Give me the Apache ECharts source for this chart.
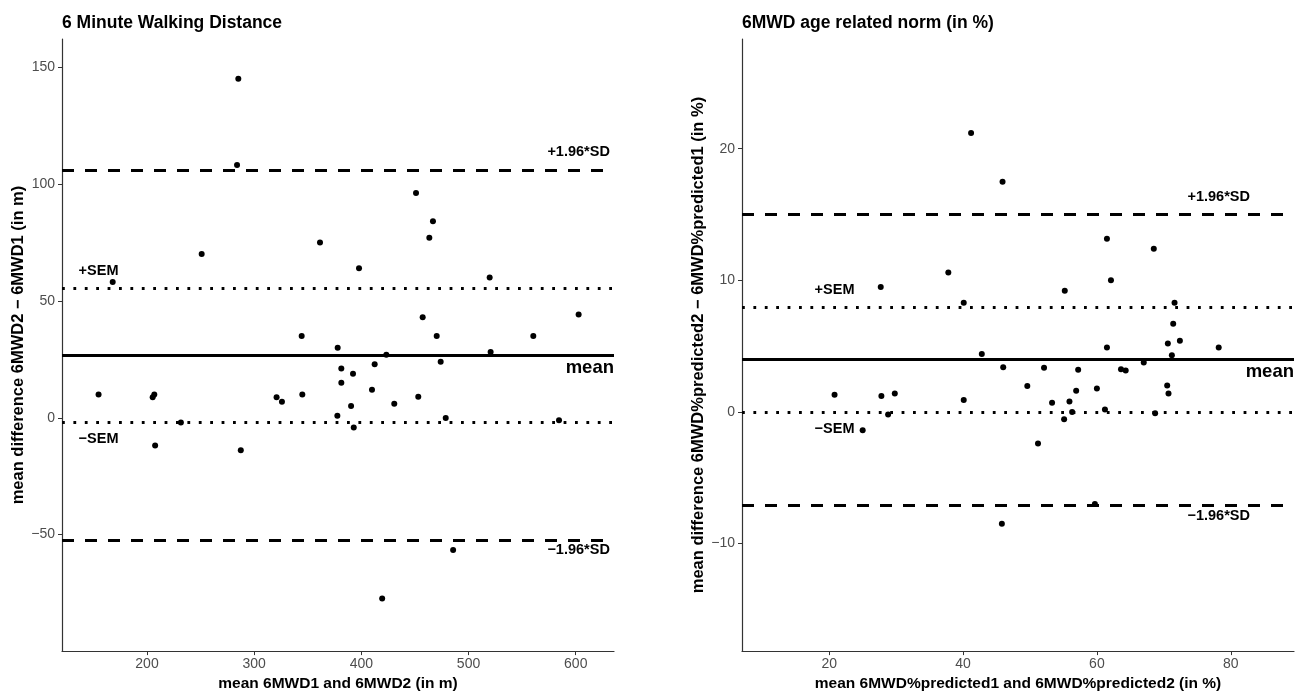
<!DOCTYPE html>
<html lang="en">
<head>
    <meta charset="UTF-8">
    <script src="https://cdn.jsdelivr.net/npm/echarts@6/dist/echarts.min.js"></script>
    <style>
        html, body { margin: 0; padding: 0; background: #fff; }
        #chart { width: 1300px; height: 697px; }
    </style>
</head>
<body>
<div id="chart"></div>
<script>
    // left panel: 6MWD in metres
    var leftMean = [285.2, 284.0, 251.0, 361.4, 397.8, 168.0, 344.3, 377.9, 451.0, 466.8,
        463.4, 519.7, 457.2, 602.7, 470.3, 560.4, 520.6, 423.3, 474.0, 412.4,
        381.3, 392.2, 381.3, 344.9, 409.9, 390.4, 430.7, 453.1, 377.6, 392.9,
        478.7, 584.4, 154.8, 205.3, 206.8, 231.6, 207.6, 287.5, 320.9, 325.9,
        485.6, 419.4];
    var leftDiff = [145.2, 108.2, 70.1, 75.1, 64.0, 58.1, 35.0, 30.0, 96.3, 84.2,
        77.1, 60.1, 43.1, 44.2, 35.0, 35.0, 28.2, 27.0, 24.0, 22.9,
        21.1, 18.9, 15.0, 10.0, 12.0, 5.0, 6.0, 9.0, 0.9, -4.2,
        -0.1, -1.1, 10.0, 8.8, 10.0, -2.0, -11.9, -13.9, 8.8, 6.9,
        -56.6, -77.4];
    // mean, +SEM, -SEM, +1.96SD, -1.96SD
    var leftLines = [26.8, 55.4, -1.7, 106.0, -52.4];

    // right panel: 6MWD % predicted
    var rightMean = [45.9, 61.5, 68.5, 62.1, 55.2, 71.6, 71.4, 70.6, 72.4, 78.2,
        61.5, 71.2, 42.8, 46.0, 52.1, 57.2, 63.6, 64.3, 67.0, 49.6,
        56.9, 60.0, 70.5, 70.7, 53.3, 55.9, 56.3, 55.1, 61.2, 68.7,
        51.2, 59.7, 45.8, 20.8, 25.0, 27.7, 27.8, 28.8, 29.8, 37.8,
        41.2, 40.1, 40.1];
    var rightDiff = [17.5, 13.15, 12.4, 10.0, 9.2, 8.3, 6.7, 5.2, 5.4, 4.9,
        4.9, 4.3, 4.4, 3.4, 3.35, 3.2, 3.25, 3.15, 3.75, 1.97,
        1.6, 1.77, 2.0, 1.4, 0.69, 0.79, 0.0, -0.55, 0.18, -0.1,
        -2.4, -7.0, -8.5, 1.3, -1.4, 9.5, 1.2, -0.2, 1.4, 10.6,
        21.2, 8.3, 0.9];
    var rightLines = [3.97, 7.98, 0.0, 15.0, -7.06];

    var leftXTicks = [200, 300, 400, 500, 600];
    var leftYTicks = [-50, 0, 50, 100, 150];
    var rightXTicks = [20, 40, 60, 80];
    var rightYTicks = [-10, 0, 10, 20];

    var FONT = 'Liberation Sans';
    var chart = echarts.init(document.getElementById('chart'));

    function pairs(xs, ys) {
        var out = [];
        for (var i = 0; i < xs.length; i++) out.push([xs[i], ys[i]]);
        return out;
    }
    function minus(v) {
        return String(v).replace('-', '\u2212');
    }
    function xAxisOf(idx, min, max, ticks, name) {
        return {
            gridIndex: idx, type: 'value', min: min, max: max,
            name: name, nameLocation: 'middle', nameGap: 24,
            nameTextStyle: {fontFamily: FONT, fontSize: 15.5, fontWeight: 'bold', color: '#000'},
            axisLine: {onZero: false, lineStyle: {color: '#333', width: 1.2}},
            axisTick: {length: 4, lineStyle: {color: '#333'}, customValues: ticks},
            axisLabel: {fontFamily: FONT, fontSize: 14, color: '#4d4d4d', margin: 6,
                customValues: ticks, formatter: minus},
            splitLine: {show: false}
        };
    }
    function yAxisOf(idx, min, max, ticks, name) {
        return {
            gridIndex: idx, type: 'value', min: min, max: max,
            name: name, nameLocation: 'middle', nameGap: 33,
            nameTextStyle: {fontFamily: FONT, fontSize: 16.5, fontWeight: 'bold', color: '#000'},
            axisLine: {show: true, onZero: false, lineStyle: {color: '#333', width: 1.2}},
            axisTick: {show: true, length: 4, lineStyle: {color: '#333'}, customValues: ticks},
            axisLabel: {fontFamily: FONT, fontSize: 14, color: '#4d4d4d', margin: 7,
                customValues: ticks, formatter: minus},
            splitLine: {show: false}
        };
    }
    function refLines(lines) {
        var dashed = {color: '#000', width: 3, type: [12, 11], cap: 'butt', opacity: 1};
        var dotted = {color: '#000', width: 2.8, type: [2.8, 8.6], cap: 'butt', opacity: 1};
        return {
            silent: true, symbol: 'none', animation: false,
            label: {show: false},
            data: [
                {yAxis: lines[0], lineStyle: {color: '#000', width: 2.8, type: 'solid', opacity: 1},
                    label: {show: true, formatter: 'mean', position: 'insideEndBottom', distance: [0, 3],
                        fontFamily: FONT, fontSize: 18.5, fontWeight: 'bold', color: '#000'}},
                {yAxis: lines[1], lineStyle: dotted},
                {yAxis: lines[2], lineStyle: dotted},
                {yAxis: lines[3], lineStyle: dashed},
                {yAxis: lines[4], lineStyle: dashed}
            ]
        };
    }
    function notes(xs, lines, downSD) {
        var xMin = Math.min.apply(null, xs), xMax = Math.max.apply(null, xs);
        function note(x, y, text, dy) {
            return {value: [x, y], label: {formatter: text, offset: [0, dy]}};
        }
        return [
            note(xMin, lines[1], '+SEM', -17),
            note(xMin, lines[2], '\u2212SEM', 17),
            note(xMax, lines[3], '+1.96*SD', -18),
            note(xMax, lines[4], '\u22121.96*SD', downSD)
        ];
    }
    function noteSeries(idx, data) {
        return {
            type: 'scatter', xAxisIndex: idx, yAxisIndex: idx, symbolSize: 0, silent: true,
            itemStyle: {opacity: 1},
            label: {show: true, position: 'inside', fontFamily: FONT, fontSize: 14.5,
                fontWeight: 'bold', color: '#000'},
            data: data
        };
    }

    var option = {
        animation: false,
        backgroundColor: '#fff',
        title: [
            {text: '6 Minute Walking Distance', left: 57, top: 9,
                textStyle: {fontFamily: FONT, fontSize: 17.5, fontWeight: 'bold', color: '#000'}},
            {text: '6MWD age related norm (in %)', left: 737, top: 9,
                textStyle: {fontFamily: FONT, fontSize: 17.5, fontWeight: 'bold', color: '#000'}}
        ],
        grid: [
            {left: 62, right: 686, top: 39, bottom: 41.5},
            {left: 742, right: 6, top: 39, bottom: 41}
        ],
        xAxis: [
            xAxisOf(0, 120.7, 635.7, leftXTicks, 'mean 6MWD1 and 6MWD2 (in m)'),
            xAxisOf(1, 6.97, 89.45, rightXTicks, 'mean 6MWD%predicted1 and 6MWD%predicted2 (in %)')
        ],
        yAxis: [
            yAxisOf(0, -99.9, 162.2, leftYTicks, 'mean difference 6MWD2 \u2212 6MWD1 (in m)'),
            yAxisOf(1, -18.18, 28.34, rightYTicks, 'mean difference 6MWD%predicted2 \u2212 6MWD%predicted1 (in %)')
        ],
        series: [
            {type: 'scatter', xAxisIndex: 0, yAxisIndex: 0, symbolSize: 6,
                itemStyle: {color: '#000', opacity: 1}, data: pairs(leftMean, leftDiff),
                markLine: refLines(leftLines)},
            {type: 'scatter', xAxisIndex: 1, yAxisIndex: 1, symbolSize: 6,
                itemStyle: {color: '#000', opacity: 1}, data: pairs(rightMean, rightDiff),
                markLine: refLines(rightLines)},
            noteSeries(0, notes(leftMean, leftLines, 10)),
            noteSeries(1, notes(rightMean, rightLines, 11))
        ]
    };
    chart.setOption(option);
</script>
</body>
</html>
